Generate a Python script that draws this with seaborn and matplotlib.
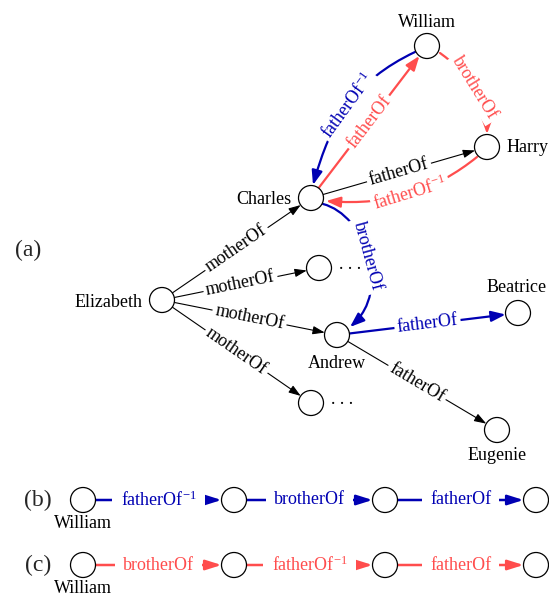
import numpy as np
import matplotlib
matplotlib.use("Agg")
import matplotlib.pyplot as plt
import seaborn as sns
from matplotlib.patches import Circle, FancyArrowPatch
from matplotlib.path import Path

# ---------------- data ----------------
node_names = ["Elizabeth", "Charles", "William", "Harry", "Andrew",
              "Beatrice", "Eugenie", "child2", "child4"]
node_texts = ["Elizabeth", "Charles", "William", "Harry", "Andrew",
              "Beatrice", "Eugenie", "", ""]
plain_edges = [("Elizabeth", "Charles", "motherOf"),
               ("Elizabeth", "child2", "motherOf"),
               ("Elizabeth", "Andrew", "motherOf"),
               ("Elizabeth", "child4", "motherOf"),
               ("Charles", "Harry", "fatherOf"),
               ("Andrew", "Eugenie", "fatherOf")]
blue_edges = [("William", "Charles", "fatherOf$^{-1}$"),
              ("Charles", "Andrew", "brotherOf"),
              ("Andrew", "Beatrice", "fatherOf")]
red_edges = [("Charles", "William", "fatherOf"),
             ("William", "Harry", "brotherOf"),
             ("Harry", "Charles", "fatherOf$^{-1}$")]
path_b = ["fatherOf$^{-1}$", "brotherOf", "fatherOf"]
path_c = ["brotherOf", "fatherOf$^{-1}$", "fatherOf"]
path_start = "William"
panel_tags = ["(a)", "(b)", "(c)"]
more_children = ". . ."

# ---------------- layout / style ----------------
sns.set_style("white")
plt.rcParams["font.family"] = ["Liberation Serif", "DejaVu Serif"]
plt.rcParams["mathtext.fontset"] = "custom"
plt.rcParams["mathtext.rm"] = "Liberation Serif"
plt.rcParams["mathtext.it"] = "Liberation Serif:italic"

BLUE = "#0000B3"
RED = "#FF4D4D"
R = 12.5
FS = 13

pos = {"Elizabeth": (162, 300), "Charles": (311, 198), "William": (427, 46),
       "Harry": (487, 147), "child2": (319, 268), "Andrew": (337, 335),
       "Beatrice": (518, 313), "child4": (311, 403), "Eugenie": (497, 430)}
label_place = {"Elizabeth": (143, 307, "right"), "Charles": (291, 204, "right"),
               "William": (427, 27, "center"), "Harry": (507, 152, "left"),
               "Andrew": (337, 368, "center"), "Beatrice": (517, 292, "center"),
               "Eugenie": (497, 460, "center")}
# cubic control geometry for curved edges: (start, c1, c2, end)
curves = {("William", "Charles"): [(415, 52), (354, 81), (331, 121), (313, 185)],
          ("Charles", "Andrew"): [(323, 204), (365, 215), (392, 290), (350, 327)],
          ("William", "Harry"): [(440, 53), (470, 75), (487, 97), (487, 134)],
          ("Harry", "Charles"): [(477, 157), (436, 190), (390, 206), (326, 201)]}

fig = plt.figure(figsize=(5.49, 5.97), dpi=100)
ax = fig.add_axes([0, 0, 1, 1])
ax.set_xlim(0, 549)
ax.set_ylim(597, 0)
ax.axis("off")


def head(hl, hw):
    return f"-|>,head_length={hl},head_width={hw}"


def screen_angle(v):
    ang = np.degrees(np.arctan2(-v[1], v[0]))
    if ang > 90:
        ang -= 180
    if ang < -90:
        ang += 180
    return ang


def put_label(x, y, text, color, ang, pad=0.15):
    ax.text(x, y, text, rotation=ang, rotation_mode="anchor", ha="center",
            va="center", color=color, fontsize=FS, zorder=4,
            bbox=dict(boxstyle=f"square,pad={pad}", fc="white", ec="none"))


def node(x, y):
    ax.add_patch(Circle((x, y), R, fc="white", ec="black", lw=0.9, zorder=5))


def straight(a, b, text, color, lw, hl, hw):
    p0, p1 = np.array(pos[a], float), np.array(pos[b], float)
    d = (p1 - p0) / np.linalg.norm(p1 - p0)
    s, e = p0 + R * d, p1 - R * d
    ax.add_patch(FancyArrowPatch(s, e, arrowstyle=head(hl, hw), color=color,
                                 lw=lw, shrinkA=0, shrinkB=0,
                                 mutation_scale=10, zorder=2))
    m = (s + e) / 2
    put_label(m[0], m[1], text, color, screen_angle(e - s))


def curved(key, text, color, lw, hl, hw):
    pts = np.array(curves[key], float)
    path = Path(pts, [Path.MOVETO, Path.CURVE4, Path.CURVE4, Path.CURVE4])
    ax.add_patch(FancyArrowPatch(path=path, arrowstyle=head(hl, hw),
                                 color=color, lw=lw, mutation_scale=10,
                                 zorder=2))
    m = (pts[0] + 3 * pts[1] + 3 * pts[2] + pts[3]) / 8
    tan = pts[3] + pts[2] - pts[1] - pts[0]
    put_label(m[0], m[1], text, color, screen_angle(tan))


# nodes
for name, txt in zip(node_names, node_texts):
    x, y = pos[name]
    node(x, y)
    if txt:
        lx, ly, ha = label_place[name]
        ax.text(lx, ly, txt, ha=ha, va="baseline", fontsize=FS, color="black")
for name in ["child2", "child4"]:
    x, y = pos[name]
    ax.text(x + 20, y + 1, more_children, ha="left", va="baseline",
            fontsize=FS, color="black", zorder=6)

# plain edges
for a, b, t in plain_edges:
    straight(a, b, t, "black", 0.8, 0.72, 0.25)

# coloured edges
for a, b, t in blue_edges + red_edges:
    color = BLUE if (a, b, t) in blue_edges else RED
    if (a, b) in curves:
        curved((a, b), t, color, 1.6, 0.86, 0.32)
    else:
        straight(a, b, t, color, 1.6, 0.86, 0.32)

ax.text(28, 250, panel_tags[0], ha="center", va="center", fontsize=17)

# paths (b) and (c)
row_x = [83, 234, 385, 536]
for tag, labels, y, color in [(panel_tags[1], path_b, 500, BLUE),
                              (panel_tags[2], path_c, 565, RED)]:
    ax.text(38, y, tag, ha="center", va="center", fontsize=17)
    for x in row_x:
        node(x, y)
    ax.text(row_x[0], y + 28, path_start, ha="center", va="baseline",
            fontsize=FS, color="black")
    for i, t in enumerate(labels):
        s, e = row_x[i] + R, row_x[i + 1] - R
        ax.add_patch(FancyArrowPatch((s, y), (e, y), arrowstyle=head(0.95, 0.3),
                                     color=color, lw=1.8, shrinkA=0, shrinkB=0,
                                     mutation_scale=10, zorder=2))
        put_label((s + e) / 2, y, t, color, 0, pad=0.45)

fig.savefig("out.png", dpi=100)
